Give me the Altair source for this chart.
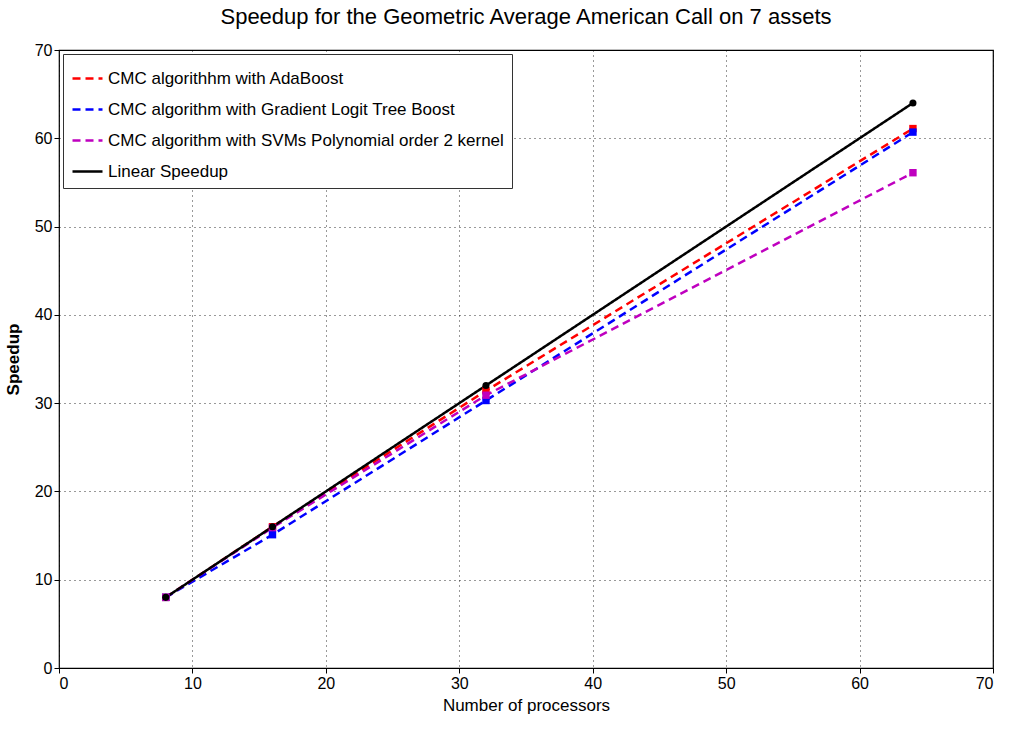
import altair as alt
import pandas as pd

processors = [8, 16, 32, 64]
series_names = [
    "CMC algorithhm with AdaBoost",
    "CMC algorithm with Gradient Logit Tree Boost",
    "CMC algorithm with SVMs Polynomial order 2 kernel",
    "Linear Speedup",
]
adaboost = [8.0, 16.0, 31.4, 61.1]
gradient = [8.0, 15.1, 30.3, 60.7]
svm = [8.0, 15.9, 30.9, 56.1]
linear = [8.0, 16.0, 32.0, 64.0]
colors = ["#FF0000", "#0000FF", "#BF00BF", "#000000"]
dashes = [[8, 5], [8, 5], [8, 5], [1, 0]]

rows = []
for name, vals in zip(series_names, [adaboost, gradient, svm, linear]):
    for p, v in zip(processors, vals):
        rows.append({"series": name, "processors": p, "speedup": v})
df = pd.DataFrame(rows)

font = "Liberation Sans Narrow, Liberation Sans, Arial"

x = alt.X("processors:Q", title="Number of processors",
          scale=alt.Scale(domain=[0, 70], nice=False),
          axis=alt.Axis(values=list(range(0, 71, 10)), titlePadding=6))
y = alt.Y("speedup:Q", title="Speedup",
          scale=alt.Scale(domain=[0, 70], nice=False),
          axis=alt.Axis(values=list(range(0, 71, 10)), titlePadding=12, titleFontWeight="bold"))
cscale = alt.Scale(domain=series_names, range=colors)
color = alt.Color("series:N", scale=cscale,
                  legend=alt.Legend(orient="top-left", title=None, symbolType="stroke",
                                    symbolStrokeWidth=2.5, symbolSize=900,
                                    labelFontSize=17, labelFont=font, labelLimit=600,
                                    rowPadding=6, padding=8, offset=4,
                                    strokeColor="#333333", fillColor="white",
                                    labelColor="black"))
dash = alt.StrokeDash("series:N", scale=alt.Scale(domain=series_names, range=dashes), legend=None)

lines = alt.Chart(df).mark_line(strokeWidth=2.5).encode(x=x, y=y, color=color, strokeDash=dash)
sq = alt.Chart(df).transform_filter(alt.datum.series != "Linear Speedup").mark_square(
    size=55, opacity=1).encode(x=x, y=y, color=alt.Color("series:N", scale=cscale, legend=None))
ci = alt.Chart(df).transform_filter(alt.datum.series == "Linear Speedup").mark_circle(
    size=50, opacity=1, color="black").encode(x=x, y=y)

chart = alt.layer(lines, sq, ci).properties(
    width=934, height=618,
    background="white",
    title=alt.TitleParams("Speedup for the Geometric Average American Call on 7 assets",
                          fontSize=22, font=font, fontWeight="normal", color="black", offset=13),
    autosize=alt.AutoSizeParams(type="none"),
    padding={"left": 59, "top": 50, "right": 17, "bottom": 62},
).configure_view(stroke="black", strokeWidth=1.2).configure_axis(
    grid=True, gridColor="black", gridDash=[1, 4], gridOpacity=0.8,
    domain=False, tickColor="black", tickSize=5,
    labelFont=font, labelFontSize=16, labelColor="black",
    titleFont=font, titleFontSize=17, titleColor="black", titleFontWeight="normal",
)

chart.save("out.html", embed_options={"renderer": "svg", "actions": False})
